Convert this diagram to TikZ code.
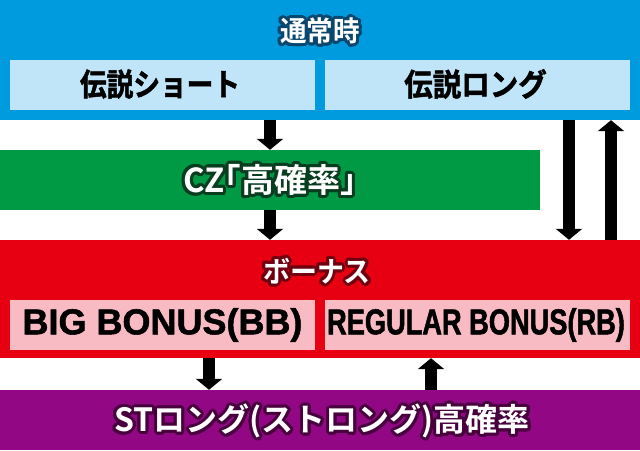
\documentclass[tikz,border=0pt]{standalone}
\usepackage{fontspec}
\usetikzlibrary{arrows.meta,calc}
\setmainfont{Noto Sans CJK JP}[BoldFont=* Bold]
\newfontfamily\jpb{Noto Sans CJK JP Bold}[RawFeature={embolden=1.6}]
\newfontfamily\jpt{Noto Sans CJK JP Bold}
\newfontfamily\latb{Liberation Sans Bold}[RawFeature={embolden=1.4}]
\newcommand\fs[2]{\fontsize{#1}{#1}\selectfont\addfontfeature{FakeStretch=#2}}
% outlined title: name, position, outline colour, content
\newcommand\olnode[4]{%
  \foreach \ang in {0,20,...,340}{\node[inner sep=0pt, text=#3] (#1-\ang) at ($#2+(\ang:3pt)$) {\color{#3}#4};}%
  \node[ttl] (#1) at #2 {#4};}
\definecolor{cblue}{RGB}{0,155,223}
\definecolor{clblue}{RGB}{192,229,248}
\definecolor{cgreen}{RGB}{0,153,68}
\definecolor{cred}{RGB}{230,0,18}
\definecolor{cpink}{RGB}{248,187,196}
\definecolor{cpurple}{RGB}{146,7,131}
\definecolor{oblue}{rgb}{0.04,0.28,0.43}
\definecolor{ogreen}{rgb}{0.03,0.24,0.12}
\definecolor{ored}{rgb}{0.44,0,0.06}
\definecolor{opurple}{rgb}{0.28,0,0.24}
\tikzset{
  band/.style={rectangle, inner sep=0pt, draw=none},
  ttl/.style={inner sep=0pt, text=white},
  lbl/.style={inner sep=0pt, text=black},
  blk/.style={line width=12pt, draw=black, -{Triangle[width=26pt,length=11pt]}}
}
\begin{document}
\begin{tikzpicture}[x=1pt,y=-1pt]
\useasboundingbox (0,0) rectangle (640,450);
\fill[white] (0,0) rectangle (640,450);
% bands
\node[band, fill=cblue, minimum width=640pt, minimum height=120pt] (tsu) at (320,60) {};
\node[band, fill=clblue, minimum width=305pt, minimum height=50pt] (short) at (162.5,85) {};
\node[band, fill=clblue, minimum width=305pt, minimum height=50pt] (long) at (477.5,85) {};
\node[band, fill=cgreen, minimum width=540pt, minimum height=60pt] (cz) at (270,180) {};
\node[band, fill=cred, minimum width=640pt, minimum height=118pt] (bon) at (320,299) {};
\node[band, fill=cpink, minimum width=305pt, minimum height=50pt] (bb) at (162.5,325) {};
\node[band, fill=cpink, minimum width=305pt, minimum height=50pt] (rb) at (477.5,325) {};
\node[band, fill=cpurple, minimum width=640pt, minimum height=60pt] (st) at (320,420) {};
% texts
\olnode{tsuT}{(320,31)}{oblue}{\jpt\fs{28}{0.95}通常時}
\node[lbl] (shortT) at (160,84) {\jpb\fs{31}{0.86}伝説ショート};
\node[lbl] (longT) at (475.5,84) {\jpb\fs{31}{0.92}伝説ロング};
\olnode{czT}{(270,180)}{ogreen}{\jpt\fs{33}{1.0}CZ｢高確率｣}
\olnode{bonT}{(317,271)}{ored}{\jpt\fs{29}{0.93}ボーナス}
\node[lbl] (bbT) at (162.5,325) {\latb\fontsize{36}{36}\selectfont BIG BONUS(BB)};
\node[lbl] (rbT) at (476,325) {\latb\fs{36}{0.756}REGULAR BONUS(RB)};
\olnode{stT}{(322,421)}{opurple}{\jpt\fs{32}{1.0}STロング(ストロング)高確率}
% arrow columns
\coordinate (c1) at (270,0);
\coordinate (c2) at (569,0);
\coordinate (c3) at (611,0);
\coordinate (c4) at (209,0);
\coordinate (c5) at (431,0);
% arrows
\draw[blk] (tsu.south -| c1) -- (cz.north -| c1);
\draw[blk] (cz.south -| c1) -- (bon.north -| c1);
\draw[blk] (tsu.south -| c2) -- (bon.north -| c2);
\draw[blk] (bon.north -| c3) -- (tsu.south -| c3);
\draw[blk] (bon.south -| c4) -- (st.north -| c4);
\draw[blk] (st.north -| c5) -- (bon.south -| c5);
\end{tikzpicture}
\end{document}
